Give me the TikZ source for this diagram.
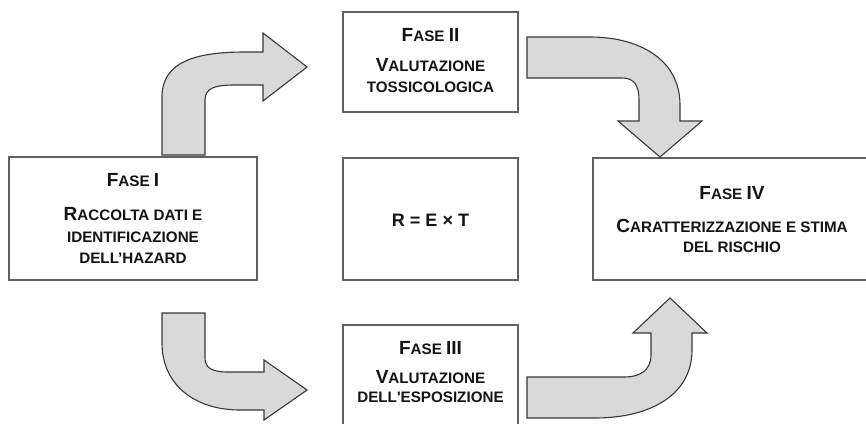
\documentclass[tikz,border=0pt]{standalone}
\usepackage{fontspec}
\setmainfont{Liberation Sans}
\newcommand{\BC}[1]{{\fontsize{19}{21.5}\selectfont #1}}
\begin{document}
\begin{tikzpicture}[x=1pt,y=-1pt,
  box/.style={draw=black!62, line width=1.2pt, fill=white, inner sep=0pt},
  txt/.style={font=\bfseries\fontsize{15.2}{21.5}\selectfont, text=black!92, inner sep=0pt, anchor=base},
  blk/.style={draw=black!78, line width=1.1pt, fill=black!15, line join=miter}]
\useasboundingbox (0,0) rectangle (866,423);
\clip (0,0) rectangle (866,423);
\fill[white] (0,0) rectangle (866,423);
% boxes
\node[box, minimum width=248pt, minimum height=123pt] (b1) at (133,218.5) {};
\node[box, minimum width=175pt, minimum height=100pt] (b2) at (430.5,62) {};
\node[box, minimum width=175pt, minimum height=122pt] (bm) at (430.5,219) {};
\node[box, minimum width=278pt, minimum height=122pt] (b4) at (732,219) {};
\node[box, minimum width=175pt, minimum height=120pt] (b3) at (430.5,385) {};
% block arrows
\path[blk] (162,155) -- (162,97) .. controls (162,62) and (195,52) .. (245,52) -- (263,52) -- (263,33) -- (307,67) -- (263,101) -- (263,85) -- (235,85) .. controls (215,85) and (205,88) .. (205,100) -- (205,155) -- cycle;
\path[blk] (162,313) -- (162,343) .. controls (162,385) and (195,410) .. (240,410) -- (264,410) -- (264,420) -- (307,390) -- (264,360) -- (264,372) -- (228,372) .. controls (212,372) and (205,368) .. (205,358) -- (205,313) -- cycle;
\path[blk] (527,37) -- (590,37) .. controls (640,37) and (680,60) .. (680,105) -- (680,121) -- (702,121) -- (660,157) -- (618,121) -- (639,121) -- (639,100) .. controls (639,85) and (634,78) .. (622,78) -- (527,78) -- cycle;
\path[blk] (527,418) -- (595,418) .. controls (650,418) and (692,395) .. (692,350) -- (692,333) -- (707,333) -- (670,298) -- (633,333) -- (651,333) -- (651,355) .. controls (651,370) and (640,377) .. (625,377) -- (527,377) -- cycle;
% texts
\node[txt] (t1a) at (133,186) {\BC{F}ASE \BC{I}};
\node[txt] (t1b) at (133,220) {\BC{R}ACCOLTA DATI E};
\node[txt] (t1c) at (133,242) {IDENTIFICAZIONE};
\node[txt] (t1d) at (133,263) {DELL’HAZARD};
\node[txt] (t2a) at (430.5,41) {\BC{F}ASE \BC{II}};
\node[txt] (t2b) at (430.5,71) {\BC{V}ALUTAZIONE};
\node[txt] (t2c) at (430.5,92) {TOSSICOLOGICA};
\node[txt, font=\bfseries\fontsize{18}{21}\selectfont] (tm) at (430.5,226) {R = E × T};
\node[txt] (t4a) at (732,199) {\BC{F}ASE \BC{IV}};
\node[txt] (t4b) at (732,232) {\BC{C}ARATTERIZZAZIONE E STIMA};
\node[txt] (t4c) at (732,252) {DEL RISCHIO};
\node[txt] (t3a) at (430.5,354) {\BC{F}ASE \BC{III}};
\node[txt] (t3b) at (430.5,383) {\BC{V}ALUTAZIONE};
\node[txt] (t3c) at (430.5,402) {DELL\textquotesingle ESPOSIZIONE};
\end{tikzpicture}
\end{document}
